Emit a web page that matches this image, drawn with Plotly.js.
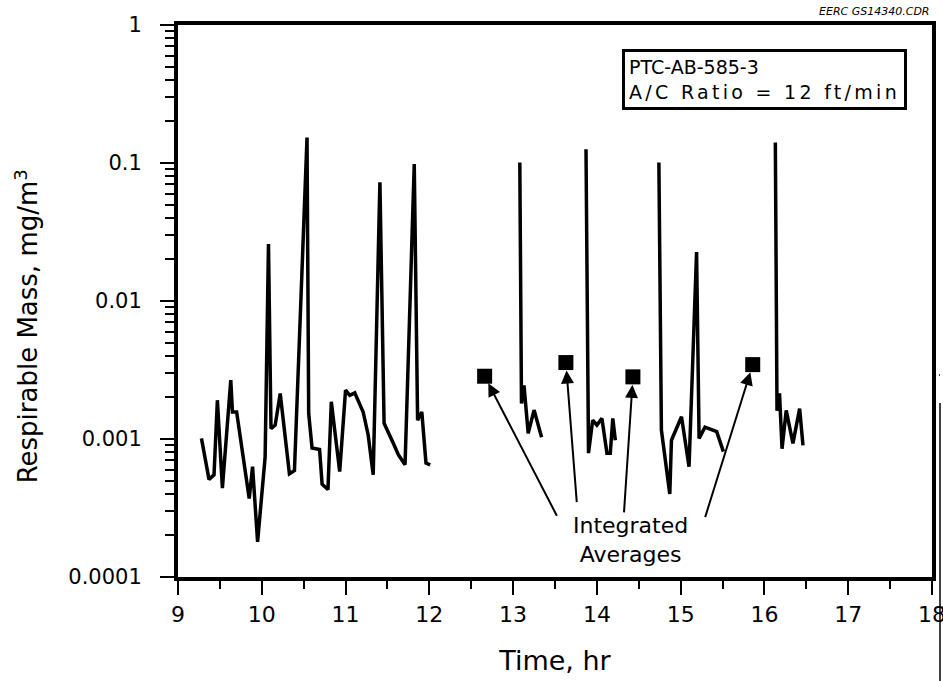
<!DOCTYPE html>
<html>
<head>
<meta charset="utf-8">
<script src="https://cdn.plot.ly/plotly-3.0.1.min.js"></script>
<style>html,body{margin:0;padding:0;background:#fff;}#chart{width:943px;height:681px;}</style>
</head>
<body>
<div id="chart"></div>
<script>
// ---- data (Time in hr, Respirable mass in mg/m3) ----
const timeSeg1 = [9.28, 9.37, 9.43, 9.47, 9.53, 9.63, 9.65, 9.70, 9.85, 9.89, 9.95, 10.04, 10.08, 10.11, 10.16, 10.22, 10.33, 10.39, 10.54, 10.56, 10.60, 10.69, 10.72, 10.79, 10.83, 10.93, 11.00, 11.05, 11.11, 11.21, 11.27, 11.33, 11.41, 11.46, 11.57, 11.63, 11.71, 11.82, 11.86, 11.91, 11.96, 12.01];
const massSeg1 = [0.00101, 0.00051, 0.00055, 0.00191, 0.00044, 0.00267, 0.00157, 0.00157, 0.00037, 0.00063, 0.00018, 0.00074, 0.0259, 0.00119, 0.00126, 0.00214, 0.00056, 0.00059, 0.153, 0.00153, 0.00086, 0.00084, 0.00047, 0.00043, 0.00186, 0.00058, 0.00226, 0.00207, 0.00216, 0.00157, 0.00107, 0.00055, 0.0724, 0.0013, 0.00093, 0.00077, 0.00065, 0.0984, 0.00137, 0.00157, 0.00067, 0.00065];
const timeSeg2 = [13.08, 13.10, 13.13, 13.18, 13.25, 13.34];
const massSeg2 = [0.101, 0.00181, 0.00245, 0.0011, 0.00162, 0.00103];
const timeSeg3 = [13.87, 13.90, 13.95, 14.00, 14.06, 14.12, 14.16, 14.19, 14.22];
const massSeg3 = [0.126, 0.00079, 0.00137, 0.00126, 0.00141, 0.00079, 0.00079, 0.00141, 0.00098];
const timeSeg4 = [14.74, 14.77, 14.87, 14.89, 15.01, 15.10, 15.19, 15.22, 15.29, 15.43, 15.51];
const massSeg4 = [0.101, 0.00116, 0.00040, 0.00098, 0.00145, 0.00063, 0.0226, 0.00101, 0.00122, 0.00113, 0.00081];
const timeSeg5 = [16.13, 16.15, 16.18, 16.21, 16.26, 16.34, 16.42, 16.46];
const massSeg5 = [0.141, 0.0016, 0.00214, 0.00085, 0.00161, 0.00093, 0.00166, 0.0009];

const avgTime = [12.66, 13.63, 14.43, 15.86];
const avgMass = [0.00285, 0.00358, 0.00282, 0.00346];

const xTickVals = [9, 10, 11, 12, 13, 14, 15, 16, 17, 18];
const yTickVals = [0.0001, 0.001, 0.01, 0.1, 1];
const yTickText = ['0.0001', '0.001', '0.01', '0.1', '1'];

// ---- chart ----
const FONT = 'DejaVu Sans, Liberation Sans, Arial, sans-serif';
const segT = [timeSeg1, timeSeg2, timeSeg3, timeSeg4, timeSeg5];
const segM = [massSeg1, massSeg2, massSeg3, massSeg4, massSeg5];
const traces = segT.map((t, i) => ({
  x: t, y: segM[i], type: 'scatter', mode: 'lines',
  line: {color: '#000', width: 3.5}, showlegend: false, hoverinfo: 'x+y'
}));
traces.push({
  x: avgTime, y: avgMass, type: 'scatter', mode: 'markers',
  marker: {symbol: 'square', size: 15, color: '#000'}, showlegend: false
});

// minor ticks for the log axis (2..9 of each decade)
const minorY = [];
for (let d = -4; d < 0; d++) for (let k = 2; k <= 9; k++) minorY.push(k * Math.pow(10, d));

const arrowTail = [[73, 141], [11, 141], [-9, 137], [-48, 154]];
const annotations = avgTime.map((t, i) => ({
  x: t, y: Math.log10(avgMass[i]), xref: 'x', yref: 'y', text: '',
  showarrow: true, ax: arrowTail[i][0], ay: arrowTail[i][1],
  arrowhead: 2, arrowsize: 1.3, arrowwidth: 2, arrowcolor: '#000', standoff: 8
}));
annotations.push({
  x: 14.40, y: -3.731, xref: 'x', yref: 'y', showarrow: false,
  text: 'Integrated<br>Averages', align: 'center',
  font: {family: FONT, size: 22, color: '#000'}, xanchor: 'center', yanchor: 'middle'
});
annotations.push({
  x: 0.589, y: 0.9565, xref: 'paper', yref: 'paper', showarrow: false,
  xanchor: 'left', yanchor: 'top', align: 'left',
  text: 'PTC-AB-585-3<br><span style="letter-spacing:3.3px">A/C Ratio = 12 ft/min</span>',
  font: {family: FONT, size: 19, color: '#000'},
  bordercolor: '#000', borderwidth: 3, borderpad: 4, bgcolor: '#fff'
});
annotations.push({
  x: 1, y: 1.0236, xref: 'paper', yref: 'paper', showarrow: false,
  xanchor: 'right', yanchor: 'middle', text: 'EERC GS14340.CDR',
  font: {family: FONT, size: 11, color: '#000', style: 'italic'}
});
annotations.push({
  x: -0.2003, y: 0.454, xref: 'paper', yref: 'paper', showarrow: false,
  xanchor: 'center', yanchor: 'middle', textangle: -90,
  text: 'Respirable Mass, mg/m<sup>3</sup>',
  font: {family: FONT, size: 26, color: '#000'}
});

const layout = {
  width: 943, height: 681,
  margin: {l: 178, r: 11, t: 25, b: 104, pad: 0},
  paper_bgcolor: '#fff', plot_bgcolor: '#fff',
  font: {family: FONT, color: '#000'},
  showlegend: false,
  xaxis: {
    range: [9, 18], tickvals: xTickVals, ticks: 'outside', ticklen: 14, tickwidth: 2, tickcolor: '#000',
    showline: true, linewidth: 4, linecolor: '#000', mirror: true,
    showgrid: false, zeroline: false, automargin: false,
    tickfont: {family: FONT, size: 22, color: '#000'}, ticklabelstandoff: 1,
    ticklabeloverflow: 'allow',
    minor: {dtick: 0.5, tick0: 9, ticks: 'outside', ticklen: 8, tickwidth: 2, tickcolor: '#000', showgrid: false},
    title: {text: 'Time, hr', font: {family: FONT, size: 27, color: '#000'}, standoff: 26}
  },
  yaxis: {
    type: 'log', range: [-4, 0], tickvals: yTickVals, ticktext: yTickText,
    ticks: 'outside', ticklen: 14, tickwidth: 2, tickcolor: '#000',
    showline: true, linewidth: 4, linecolor: '#000', mirror: true,
    showgrid: false, zeroline: false, automargin: false,
    tickfont: {family: FONT, size: 21, color: '#000'}, ticklabelstandoff: 14,
    minor: {tickvals: minorY, ticks: 'outside', ticklen: 9, tickwidth: 2, tickcolor: '#000', showgrid: false}
  },
  annotations: annotations,
  shapes: [
    {type: 'line', xref: 'paper', yref: 'paper', x0: 1.0106, x1: 1.0106, y0: 0.315, y1: -0.19,
     line: {color: '#000', width: 1.5}},
    {type: 'line', xref: 'paper', yref: 'paper', x0: 1.0093, x1: 1.0106, y0: 0.366, y1: 0.366,
     line: {color: '#000', width: 1.5}}
  ]
};

Plotly.newPlot('chart', traces, layout, {staticPlot: true, displayModeBar: false});
</script>
</body>
</html>
